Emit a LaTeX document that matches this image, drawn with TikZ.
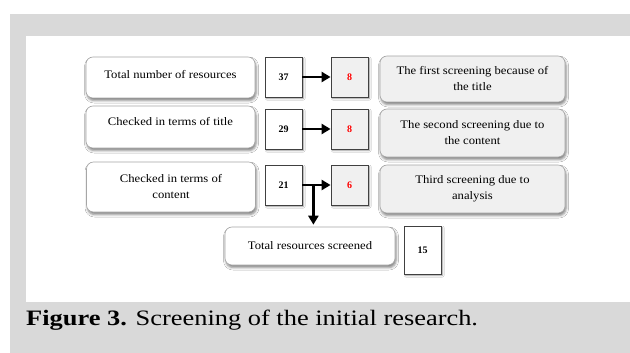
\documentclass[tikz,border=0pt]{standalone}
\usepackage{fontspec}
\setmainfont{Liberation Serif}
\newfontfamily\boxfont[FakeStretch=1.1]{Liberation Serif}
\newfontfamily\capfont[FakeStretch=1.2]{Liberation Serif}
\usetikzlibrary{arrows.meta,shadows.blur,calc}
\definecolor{bandgray}{HTML}{D9D9D9}
\definecolor{boxgray}{HTML}{F0F0F0}
\begin{document}
\begin{tikzpicture}[x=1pt,y=-1pt,
  lbox/.style={draw=black!35, line width=0.6pt, fill=white, rounded corners=7pt,
    blur shadow={shadow xshift=1pt, shadow yshift=-2.5pt, shadow blur radius=2.5pt, shadow opacity=50},
    minimum width=169pt, align=center, inner sep=0pt,
    font=\boxfont\fontsize{11.5}{16}\selectfont},
  rbox/.style={lbox, fill=boxgray, minimum width=185pt},
  nbox/.style={draw=black!75, line width=0.8pt, fill=white, minimum width=37pt,
    minimum height=40pt, inner sep=0pt, font=\bfseries\fontsize{10}{12}\selectfont,
    blur shadow={shadow xshift=1.5pt, shadow yshift=-1.5pt, shadow blur radius=1.5pt, shadow opacity=40}},
  mbox/.style={nbox, fill=boxgray, text=red},
  arr/.style={line width=2.5pt, -{Triangle[length=9pt,width=10pt]}}]
\useasboundingbox (0,0) rectangle (630,353);
\fill[white] (0,0) rectangle (630,353);
\fill[bandgray] (10,14) rectangle (630,353);
\fill[white] (26,36) rectangle (630,302);

% left boxes
\node[lbox, minimum height=41pt, label={[yshift=2.5pt, font=\boxfont\fontsize{11.5}{16}\selectfont]center:Total number of resources}] (l1) at (170.5,77.5) {};
\node[lbox, minimum height=42pt, label={[yshift=5pt, font=\boxfont\fontsize{11.5}{16}\selectfont]center:Checked in terms of title}] (l2) at (170.5,127) {};
\node[lbox, minimum height=50pt] (l3) at (171,187) {Checked in terms of\\content};

% number boxes
\node[nbox] (n1) at (283.5,77) {37};
\node[mbox] (m1) at (349.5,77) {8};
\node[nbox] (n2) at (283.5,129) {29};
\node[mbox] (m2) at (349.5,129) {8};
\node[nbox] (n3) at (283.5,185) {21};
\node[mbox] (m3) at (349.5,185) {6};

% right boxes
\node[rbox, minimum height=46pt] (r1) at (472.5,79) {The first screening because of\\the title};
\node[rbox, minimum height=48pt] (r2) at (472.5,133) {The second screening due to\\the content};
\node[rbox, minimum height=48pt] (r3) at (472.5,189) {Third screening due to\\analysis};

% final row
\node[lbox, minimum width=170pt, minimum height=38pt] (f) at (310,246) {Total resources screened};
\node[nbox, minimum height=48pt] (f15) at (422.5,250) {15};

% arrows
\draw[arr] (n1.east) -- (m1.west);
\draw[arr] (n2.east) -- (m2.west);
\draw[arr] (n3.east) -- (m3.west);
\coordinate (split) at ($(n3.east)+(11pt,0)$);
\draw[arr, shorten >=2pt] (split) -- (split |- f.north);

% caption
\node[anchor=base west, inner sep=0pt, font=\capfont\fontsize{22}{26}\selectfont] (cap) at (26,325)
  {\textbf{Figure 3.} Screening of the initial research.};
\end{tikzpicture}
\end{document}
